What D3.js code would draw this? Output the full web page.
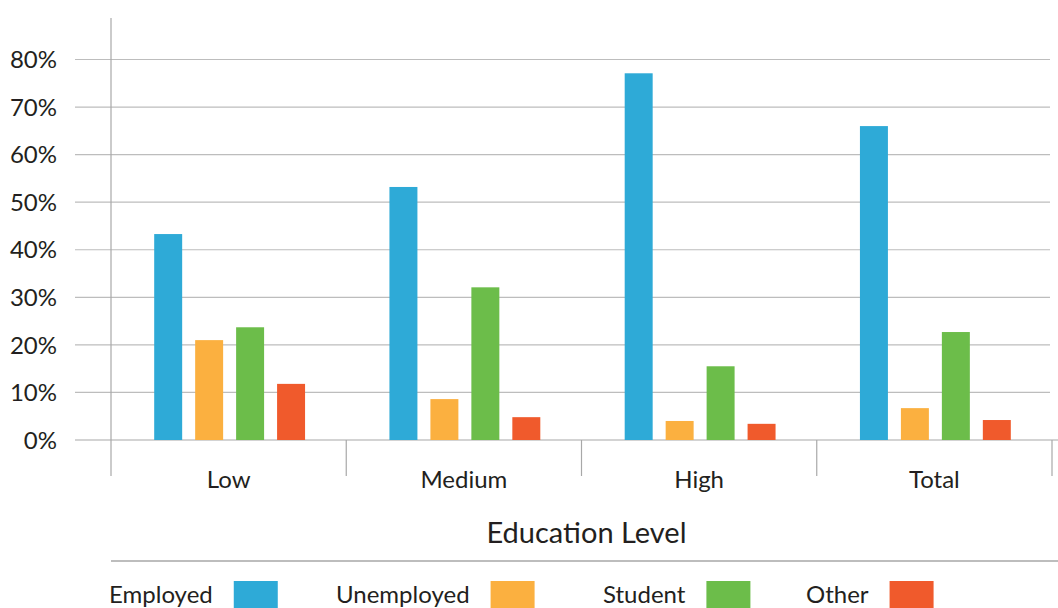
<!DOCTYPE html>
<html>
<head>
    <meta charset="utf-8">
    <title></title>
    <script src="https://cdn.jsdelivr.net/npm/d3@7"></script>
    <style>
        * {
            margin: 0;
            padding: 0;
        }

        body {
            background: #fff;
        }

        #chart {
            width: 1058px;
            height: 608px;
        }

        text {
            font-family: Lato, "Open Sans", sans-serif;
            fill: #231f20;
        }
    </style>
</head>
<body>
    <div id="chart"></div>

    <script>
        // data
        var categories = ["Low", "Medium", "High", "Total"];
        var seriesNames = ["Employed", "Unemployed", "Student", "Other"];
        var employed = [43.3, 53.2, 77.1, 66.0];
        var unemployed = [21.0, 8.6, 4.0, 6.7];
        var student = [23.7, 32.1, 15.5, 22.7];
        var other = [11.8, 4.8, 3.4, 4.2];
        var yTicks = [0, 10, 20, 30, 40, 50, 60, 70, 80];
        var colors = ["#2eaad7", "#fbb040", "#6cbd4a", "#f05a2c"];

        var seriesValues = [employed, unemployed, student, other];

        var data = categories.map(function (c, i) {
            var row = { category: c };
            seriesNames.forEach(function (s, j) {
                row[s] = seriesValues[j][i];
            });
            return row;
        });

        var W = 1058, H = 608;
        var margin = { top: 18, right: 6, bottom: 168, left: 111 },
            width = W - margin.left - margin.right,
            height = 440 - margin.top;

        var svg = d3.select("#chart")
            .append("svg")
            .attr("width", W)
            .attr("height", H);

        var g = svg.append("g")
            .attr("transform", "translate(" + margin.left + "," + margin.top + ")");

        // x scales
        var x0 = d3.scaleBand()
            .domain(categories)
            .range([0, 941])
            .padding(0);

        var x1 = d3.scaleBand()
            .domain(seriesNames)
            .range([0, x0.bandwidth()])
            .paddingInner(0.317)
            .paddingOuter(1.03);

        // y scale: 0% at 440, 80% at ~59.5
        var y = d3.scaleLinear()
            .domain([0, 80])
            .range([440 - margin.top, 59.5 - margin.top]);

        // gridlines
        g.append("g")
            .selectAll("line")
            .data(yTicks)
            .enter()
            .append("line")
            .attr("x1", -36)
            .attr("x2", function (d) { return d == 0 ? W - margin.left : x0.range()[1] - 2; })
            .attr("y1", function (d) { return y(d); })
            .attr("y2", function (d) { return y(d); })
            .attr("stroke", function (d) { return d == 0 ? "#a8a8a8" : "#bdbdbd"; })
            .attr("stroke-width", 1.2);

        // y tick labels
        g.append("g")
            .selectAll("text")
            .data(yTicks)
            .enter()
            .append("text")
            .attr("x", -54)
            .attr("y", function (d) { return y(d); })
            .attr("dy", "0.36em")
            .attr("text-anchor", "end")
            .style("font-size", "24px")
            .text(function (d) { return d + "%"; });

        // y axis line
        g.append("line")
            .attr("x1", 0).attr("x2", 0)
            .attr("y1", 0).attr("y2", 476 - margin.top)
            .attr("stroke", "#a8a8a8")
            .attr("stroke-width", 1.2);

        // category dividers (bottom axis ticks)
        var bounds = categories.map(function (c) { return x0(c); }).concat([x0.range()[1]]);
        g.append("g")
            .selectAll("line")
            .data(bounds.slice(1))
            .enter()
            .append("line")
            .attr("x1", function (d) { return d; })
            .attr("x2", function (d) { return d; })
            .attr("y1", y(0))
            .attr("y2", 476 - margin.top)
            .attr("stroke", "#a8a8a8")
            .attr("stroke-width", 1.2);

        // bars
        g.append("g")
            .selectAll("g")
            .data(data)
            .enter().append("g")
            .attr("transform", function (d) { return "translate(" + (x0(d.category) + 1) + ",0)"; })
            .selectAll("rect")
            .data(function (d) {
                return seriesNames.map(function (s) { return { key: s, value: d[s] }; });
            })
            .enter()
            .append("rect")
            .attr("x", function (d) { return x1(d.key); })
            .attr("y", function (d) { return y(d.value); })
            .attr("width", x1.bandwidth())
            .attr("height", function (d) { return y(0) - y(d.value); })
            .attr("fill", function (d, i) { return colors[i]; });

        // category labels
        g.append("g")
            .selectAll("text")
            .data(categories)
            .enter()
            .append("text")
            .attr("x", function (d) { return x0(d) + x0.bandwidth() / 2; })
            .attr("y", 479 - margin.top)
            .attr("dy", "0.36em")
            .attr("text-anchor", "middle")
            .style("font-size", "24px")
            .text(function (d) { return d; });

        // axis title
        g.append("text")
            .attr("x", x0.range()[1] / 2 + 5)
            .attr("y", 533 - margin.top)
            .attr("dy", "0.36em")
            .attr("text-anchor", "middle")
            .style("font-size", "29px")
            .text("Education Level");

        // separator
        svg.append("line")
            .attr("x1", margin.left).attr("x2", W)
            .attr("y1", 561).attr("y2", 561)
            .attr("stroke", "#bdbdbd")
            .attr("stroke-width", 2);

        // legend
        var legendX = [109, 336, 603, 806];
        var legend = svg.append("g")
            .selectAll("g")
            .data(seriesNames)
            .enter()
            .append("g")
            .attr("transform", function (d, i) { return "translate(" + legendX[i] + ",0)"; });

        legend.append("text")
            .attr("x", 0)
            .attr("y", 594)
            .attr("dy", "0.36em")
            .style("font-size", "24px")
            .text(function (d) { return d; });

        legend.append("rect")
            .attr("x", function () {
                return this.parentNode.querySelector("text").getComputedTextLength() + 21;
            })
            .attr("y", 581)
            .attr("width", 44)
            .attr("height", 28)
            .attr("fill", function (d, i) { return colors[i]; });

    </script>
</body>
</html>
